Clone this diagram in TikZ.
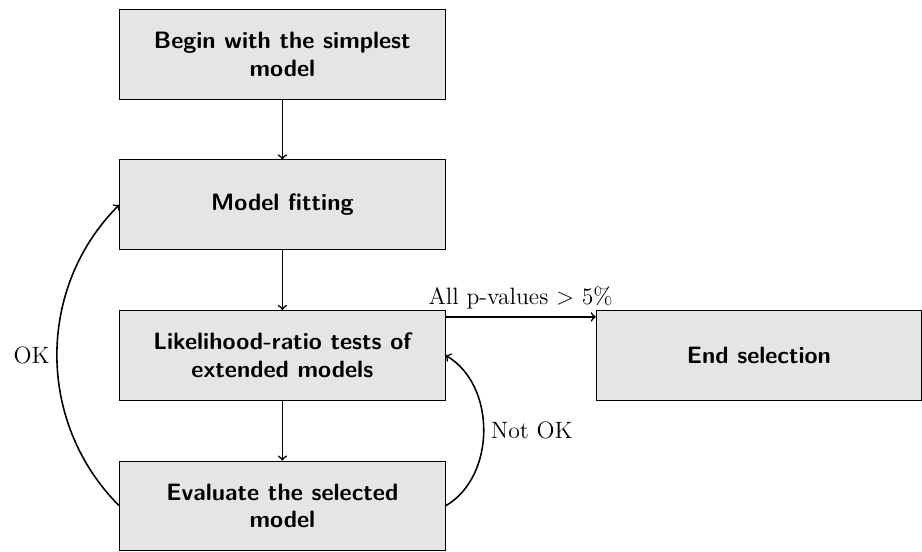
\documentclass[tikz,border=0pt]{standalone}
\usetikzlibrary{positioning}

\begin{document}
\begin{tikzpicture}[node distance=1.07cm and 2.68cm, every node/.style={font=\large},
        stepbox/.style={draw, fill=gray!20, minimum width=5.8cm, minimum height=1.6cm,
            text width=4.8cm, align=flush center, font=\large\sffamily\bfseries},
        flow/.style={->, thick}]
        \node[stepbox] (begin) {Begin with the simplest model};
        \node[stepbox, below=of begin] (fit) {Model fitting};
        \node[stepbox, below=of fit] (lrt) {Likelihood-ratio tests of extended models};
        \node[stepbox, below=of lrt] (eval) {Evaluate the selected model};
        \node[stepbox, right=of lrt] (end) {End selection};
        \useasboundingbox ([xshift=-60.5pt,yshift=4.5pt]begin.north west) rectangle ++(461pt,-276pt);
        % main flow
        \draw[flow] (begin) -- (fit);
        \draw[flow] (fit) -- (lrt);
        \draw[flow] (lrt) -- (eval);
        \draw[flow] ([yshift=-3.5pt]lrt.north east) -- node[above]{All p-values $>$ 5\%} ([yshift=-3.5pt]end.north west);
        % loops back
        \draw[flow] (eval.west) to[bend left=45] node[left]{OK} (fit.west);
        \draw[flow] (eval.east) to[bend right=60] node[right]{Not OK} (lrt.east);
\end{tikzpicture}
\end{document}
